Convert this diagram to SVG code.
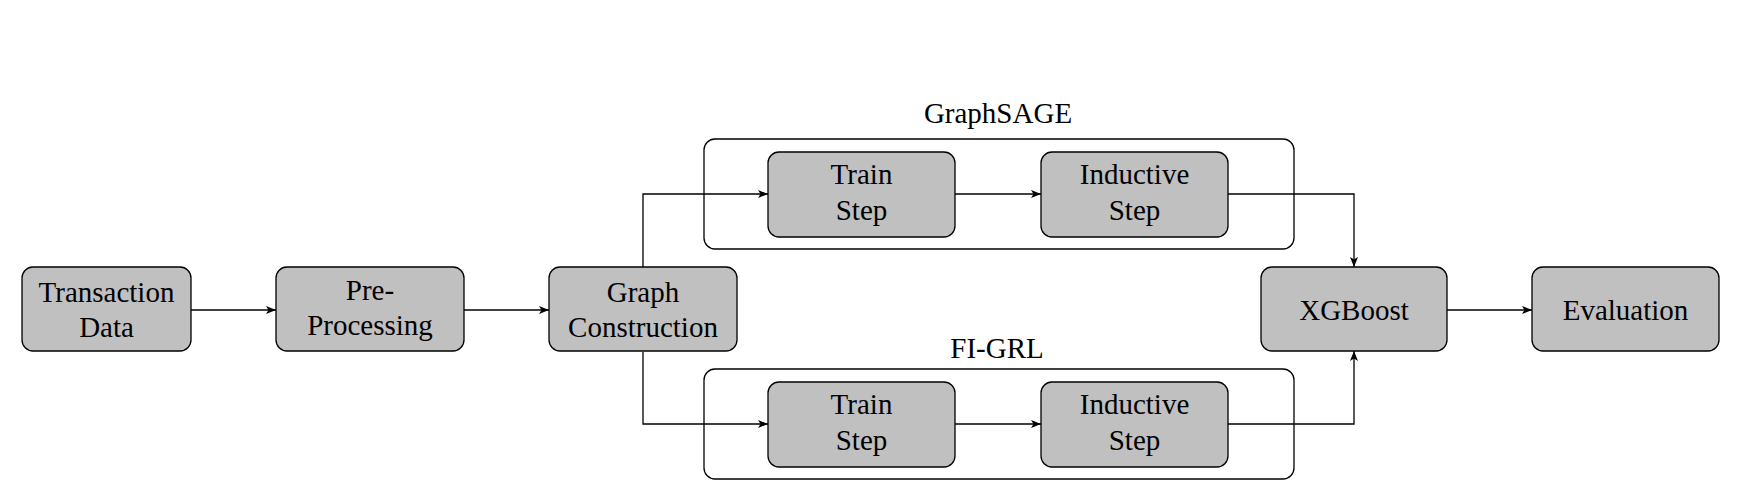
<svg xmlns="http://www.w3.org/2000/svg" width="1756" height="499" viewBox="0 0 1756 499">
<style>
.box{fill:#c0c0c0;stroke:#000;stroke-width:1.3}
.cont{fill:none;stroke:#000;stroke-width:1.3}
.t{font-family:"Liberation Serif","Times New Roman",serif;font-size:29px;fill:#000;text-anchor:middle}
.c{fill:none;stroke:#000;stroke-width:1.3}
</style>
<defs>
<marker id="ah" viewBox="0 0 10 8" refX="10" refY="4" markerWidth="10" markerHeight="8" markerUnits="userSpaceOnUse" orient="auto">
<path d="M0,0 L10,4 L0,8 L2.5,4 Z" fill="#000"/>
</marker>
</defs>
<rect width="1756" height="499" fill="#fff"/>
<g id="grp-graphsage">
<rect class="cont" x="704" y="139" width="590" height="110" rx="11"/>
<text class="t" x="998" y="123">GraphSAGE</text>
</g>
<g id="grp-figrl">
<rect class="cont" x="704" y="369" width="590" height="110" rx="11"/>
<text class="t" x="997" y="358">FI-GRL</text>
</g>
<g id="connectors">
<path class="c" d="M191,310 H276" marker-end="url(#ah)"/>
<path class="c" d="M464,310 H549" marker-end="url(#ah)"/>
<path class="c" d="M643,268 V194 H768" marker-end="url(#ah)"/>
<path class="c" d="M643,352 V424 H768" marker-end="url(#ah)"/>
<path class="c" d="M955,194 H1041" marker-end="url(#ah)"/>
<path class="c" d="M955,424 H1041" marker-end="url(#ah)"/>
<path class="c" d="M1228,194 H1354 V267" marker-end="url(#ah)"/>
<path class="c" d="M1228,424 H1354 V351" marker-end="url(#ah)"/>
<path class="c" d="M1447,310 H1532" marker-end="url(#ah)"/>
</g>
<g id="n-transaction">
<rect class="box" x="22" y="267" width="169" height="84" rx="11"/>
<text class="t" x="106.5" y="302">Transaction</text>
<text class="t" x="106.5" y="337">Data</text>
</g>
<g id="n-preprocessing">
<rect class="box" x="276" y="267" width="188" height="84" rx="11"/>
<text class="t" x="370" y="300">Pre-</text>
<text class="t" x="370" y="335">Processing</text>
</g>
<g id="n-graph">
<rect class="box" x="549" y="267" width="188" height="84" rx="11"/>
<text class="t" x="643" y="302">Graph</text>
<text class="t" x="643" y="337">Construction</text>
</g>
<g id="n-train1">
<rect class="box" x="768" y="152" width="187" height="85" rx="11"/>
<text class="t" x="861.5" y="184">Train</text>
<text class="t" x="861.5" y="220">Step</text>
</g>
<g id="n-inductive1">
<rect class="box" x="1041" y="152" width="187" height="85" rx="11"/>
<text class="t" x="1134.5" y="184">Inductive</text>
<text class="t" x="1134.5" y="220">Step</text>
</g>
<g id="n-train2">
<rect class="box" x="768" y="382" width="187" height="85" rx="11"/>
<text class="t" x="861.5" y="414">Train</text>
<text class="t" x="861.5" y="450">Step</text>
</g>
<g id="n-inductive2">
<rect class="box" x="1041" y="382" width="187" height="85" rx="11"/>
<text class="t" x="1134.5" y="414">Inductive</text>
<text class="t" x="1134.5" y="450">Step</text>
</g>
<g id="n-xgboost">
<rect class="box" x="1261" y="267" width="186" height="84" rx="11"/>
<text class="t" x="1354" y="320">XGBoost</text>
</g>
<g id="n-evaluation">
<rect class="box" x="1532" y="267" width="187" height="84" rx="11"/>
<text class="t" x="1625.5" y="320">Evaluation</text>
</g>
</svg>
